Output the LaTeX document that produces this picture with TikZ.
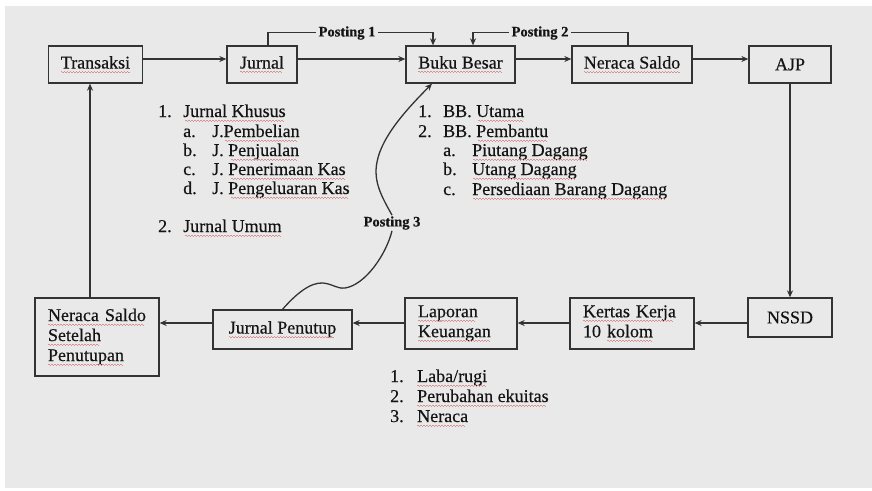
\documentclass[tikz,border=0pt]{standalone}
\usepackage{fontspec}
\setmainfont{Liberation Serif}[FakeBold=0.4]
\usetikzlibrary{arrows.meta}
\definecolor{bg}{HTML}{E9E9E9}
\definecolor{linec}{HTML}{333333}
\definecolor{txtc}{HTML}{141414}
\definecolor{sqred}{HTML}{D99090}
\newsavebox\sqbox
\newcommand\sq[1]{\sbox\sqbox{#1}\leavevmode\rlap{\usebox\sqbox}\textcolor{sqred}{\leaders\hbox to 3pt{\rule[-3.6pt]{1.5pt}{0.8pt}\rule[-4.4pt]{1.5pt}{0.8pt}}\hskip\wd\sqbox}}
\tikzset{
  ln/.style={draw=linec, line width=1.3pt},
  arr/.style={ln, -{Stealth[length=7pt,width=6pt]}},
  box/.style={draw=linec, line width=1.3pt, inner sep=0pt, text=txtc,
    font=\fontsize{18}{20}\selectfont},
  lbox/.style={box, align=left},
  txt/.style={inner sep=0pt, anchor=base west, text=txtc,
    font=\fontsize{18}{20}\selectfont},
  plab/.style={fill=bg, inner xsep=3pt, inner ysep=1pt, text=txtc,
    font=\bfseries\fontsize{14.5}{16}\selectfont}
}
\begin{document}
\begin{tikzpicture}[x=1pt, y=-1pt]
\fill[white] (0,0) rectangle (872,490);
\fill[bg] (5,6) rectangle (872,488);
\useasboundingbox (0,0) rectangle (872,490);

% top row
\node[box, minimum width=94pt, minimum height=37pt] (tr) at (95.5,64.5) {\sq{Transaksi}};
\node[box, minimum width=70pt, minimum height=37pt] (ju) at (262,64.5) {\sq{Jurnal}};
\node[box, minimum width=109pt, minimum height=37pt] (bb) at (460.5,64.5) {\sq{Buku Besar}};
\node[box, minimum width=120pt, minimum height=37pt] (ns) at (632,64.5) {\sq{Neraca Saldo}};
\node[box, minimum width=82pt, minimum height=37pt] (ajp) at (790,64.5) {AJP};

% bottom row
\node[box, minimum width=84pt, minimum height=39pt] (nssd) at (790,317.5) {NSSD};
\node[lbox, minimum width=124pt, minimum height=51pt, text width=98pt] (kk) at (632,323.5) {\sq{Kertas Kerja}\\10 \sq{kolom}};
\node[lbox, minimum width=112pt, minimum height=51pt, text width=86pt] (lk) at (461,323.5) {\sq{Laporan}\\\sq{Keuangan}};
\node[box, minimum width=139pt, minimum height=39pt] (jp) at (282.5,329.5) {\sq{Jurnal Penutup}};
\node[lbox, minimum width=124pt, minimum height=78pt, text width=98pt] (nssp) at (97,337) {\sq{Neraca Saldo}\\\sq{Setelah}\\\sq{Penutupan}};

\coordinate (rt) at (0,59);
\coordinate (rb) at (0,323);

% top arrows
\draw[arr] (tr.east |- rt) -- (ju.west |- rt);
\draw[arr] (ju.east |- rt) -- (bb.west |- rt);
\draw[arr] (bb.east |- rt) -- (ns.west |- rt);
\draw[arr] (ns.east |- rt) -- (ajp.west |- rt);
\draw[arr] (ajp.south) -- (nssd.north);

% bottom arrows
\draw[arr] (nssd.west |- rb) -- (kk.east |- rb);
\draw[arr] (kk.west |- rb) -- (lk.east |- rb);
\draw[arr] (lk.west |- rb) -- (jp.east |- rb);
\draw[arr] (jp.west |- rb) -- (nssp.east |- rb);
\draw[arr] ([xshift=-7pt]nssp.north) -- ([xshift=-5.5pt]tr.south);

% posting 1 and 2
\draw[arr] ([xshift=6pt]ju.north) -- ++(0,-13) -| ([xshift=-27.5pt]bb.north);
\node[plab] (post1) at (347,33) {Posting 1};
\draw[arr] ([xshift=-4pt]ns.north) -- ++(0,-13) -| ([xshift=12.5pt]bb.north);
\node[plab] (post2) at (540,33) {Posting 2};

% posting 3
\node[plab, fill=none] (post3) at (392,223) {Posting 3};
\draw[ln] (jp.north) .. controls (295,295) and (310,282) .. (323,283)
  .. controls (333,284) and (337,289) .. (345,288)
  .. controls (365,285) and (386,255) .. (post3.south);
\draw[arr] (post3.north) .. controls (382,197) and (373,182) .. (377,162)
  .. controls (382,135) and (410,106) .. ([xshift=-28.5pt]bb.south);

% list 1
\node[txt] (l1a) at (158,117) {\makebox[25pt][l]{1.}\sq{Jurnal Khusus}};
\node[txt] (l1b) at (183,137) {\makebox[29pt][l]{a.}J.\sq{Pembelian}};
\node[txt] (l1c) at (183,156) {\makebox[29pt][l]{b.}J. \sq{Penjualan}};
\node[txt] (l1d) at (183,175) {\makebox[29pt][l]{c.}J. \sq{Penerimaan Kas}};
\node[txt] (l1e) at (183,194) {\makebox[29pt][l]{d.}J. \sq{Pengeluaran Kas}};
\node[txt] (l1f) at (158,232) {\makebox[25pt][l]{2.}\sq{Jurnal Umum}};

% list 2
\node[txt] (l2a) at (418,117) {\makebox[25pt][l]{1.}BB. \sq{Utama}};
\node[txt] (l2b) at (418,137) {\makebox[25pt][l]{2.}BB. \sq{Pembantu}};
\node[txt] (l2c) at (443,156) {\makebox[29pt][l]{a.}\sq{Piutang Dagang}};
\node[txt] (l2d) at (443,175) {\makebox[29pt][l]{b.}\sq{Utang Dagang}};
\node[txt] (l2e) at (443,195) {\makebox[29pt][l]{c.}\sq{Persediaan Barang Dagang}};

% list 3
\node[txt] (l3a) at (390,382) {\makebox[27pt][l]{1.}\sq{Laba/rugi}};
\node[txt] (l3b) at (390,402) {\makebox[27pt][l]{2.}\sq{Perubahan ekuitas}};
\node[txt] (l3c) at (390,422) {\makebox[27pt][l]{3.}\sq{Neraca}};
\end{tikzpicture}
\end{document}
